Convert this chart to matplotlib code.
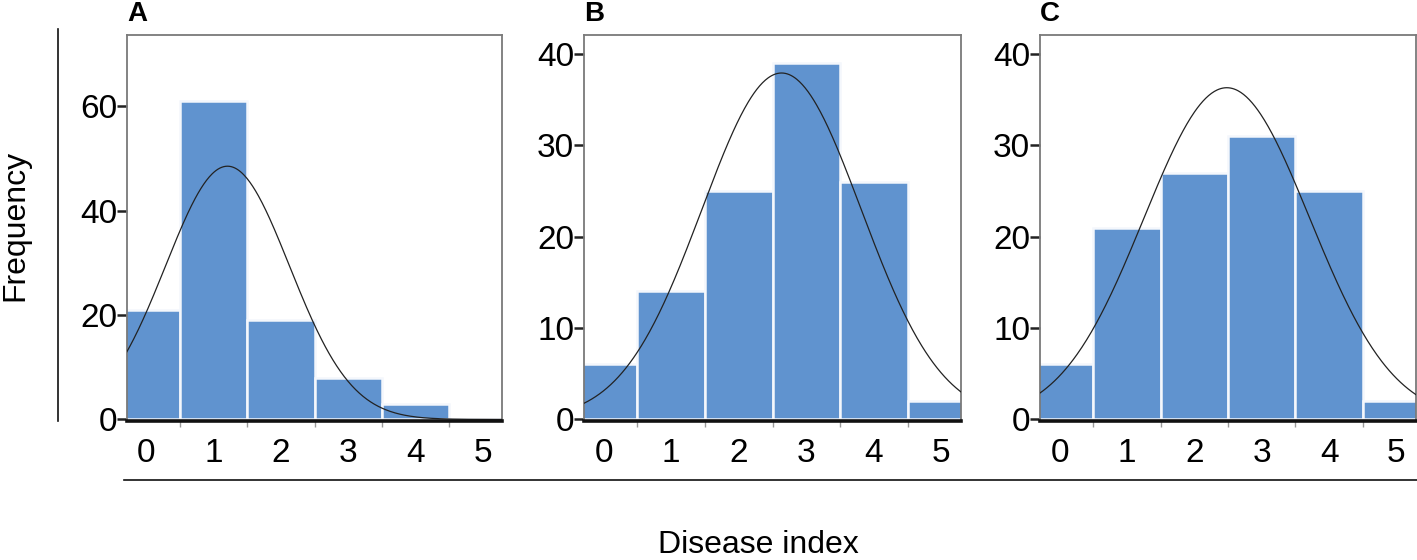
import numpy as np
import matplotlib
matplotlib.use("Agg")
import matplotlib.pyplot as plt
from matplotlib.lines import Line2D

plt.rcParams['font.family'] = ['Liberation Sans', 'DejaVu Sans']

# disease index classes and frequency counts per panel
disease_index = [0, 1, 2, 3, 4, 5]
counts_a = [21, 61, 19, 8, 3, 0]
counts_b = [6, 14, 25, 39, 26, 2]
counts_c = [6, 21, 27, 31, 25, 2]
panel_labels = ['A', 'B', 'C']
yticks_a = [0, 20, 40, 60]
yticks_bc = [0, 10, 20, 30, 40]

BAR_COLOR = '#6093cf'
W, H = 1417, 560

fig = plt.figure(figsize=(W / 100, H / 100), dpi=100)


def px_axes(left, right, top, bottom):
    return fig.add_axes([left / W, (H - bottom) / H, (right - left) / W, (bottom - top) / H])


def draw_panel(ax, counts, yticks, ylim, letter):
    x = np.array(disease_index, dtype=float)
    c = np.array(counts, dtype=float)
    ax.bar(x, c, width=1.0, color=BAR_COLOR, edgecolor='#f4f7fc', linewidth=1.8, zorder=2)

    # normal curve fitted to the counts (sample sd), scaled to frequency
    n = c.sum()
    mean = (x * c).sum() / n
    sd = np.sqrt(((x - mean) ** 2 * c).sum() / (n - 1))
    xs = np.linspace(-0.3, 5.3, 400)
    ys = n / (sd * np.sqrt(2 * np.pi)) * np.exp(-0.5 * ((xs - mean) / sd) ** 2)
    ax.plot(xs, ys, color='#222222', linewidth=0.9, zorder=3)

    ax.set_xlim(-0.29, 5.29)
    ax.set_ylim(*ylim)
    ax.set_yticks(yticks)
    ax.set_xticks(disease_index)
    ax.set_xticks([0.5, 1.5, 2.5, 3.5, 4.5], minor=True)
    ax.tick_params(axis='y', length=7, width=1.8, color='#222222', pad=0, labelsize=24)
    ax.tick_params(axis='x', which='major', length=0, pad=12, labelsize=24)
    ax.tick_params(axis='x', which='minor', length=4, width=1, color='#999999')
    for s in ['left', 'top', 'right']:
        ax.spines[s].set_color('#7a7a7a')
        ax.spines[s].set_linewidth(1.3)
    ax.spines['bottom'].set_color('#111111')
    ax.spines['bottom'].set_linewidth(2.6)
    ax.spines['bottom'].set_zorder(4)
    ax.text(0.0, 1.02, letter, transform=ax.transAxes, fontsize=20,
            fontweight='bold', ha='left', va='bottom')


ax_a = px_axes(127, 502, 35, 421)
ax_b = px_axes(584, 961, 35, 421)
ax_c = px_axes(1040, 1416, 35, 421)

draw_panel(ax_a, counts_a, yticks_a, (-0.3, 73.6), panel_labels[0])
draw_panel(ax_b, counts_b, yticks_bc, (-0.2, 42.1), panel_labels[1])
draw_panel(ax_c, counts_c, yticks_bc, (-0.2, 42.1), panel_labels[2])

# shared axis labels with their bracket lines
fig.add_artist(Line2D([58 / W, 58 / W], [(H - 29) / H, (H - 421) / H], color='#111111', linewidth=1.2))
fig.add_artist(Line2D([124 / W, 1417 / W], [(H - 480) / H, (H - 480) / H], color='#111111', linewidth=1.2))
fig.text(15 / W, (H - 225) / H, 'Frequency', rotation=90, fontsize=23, ha='center', va='center')
fig.text(758 / W, (H - 553) / H, 'Disease index', fontsize=23, ha='center', va='baseline')

fig.savefig('out.png', dpi=100)
